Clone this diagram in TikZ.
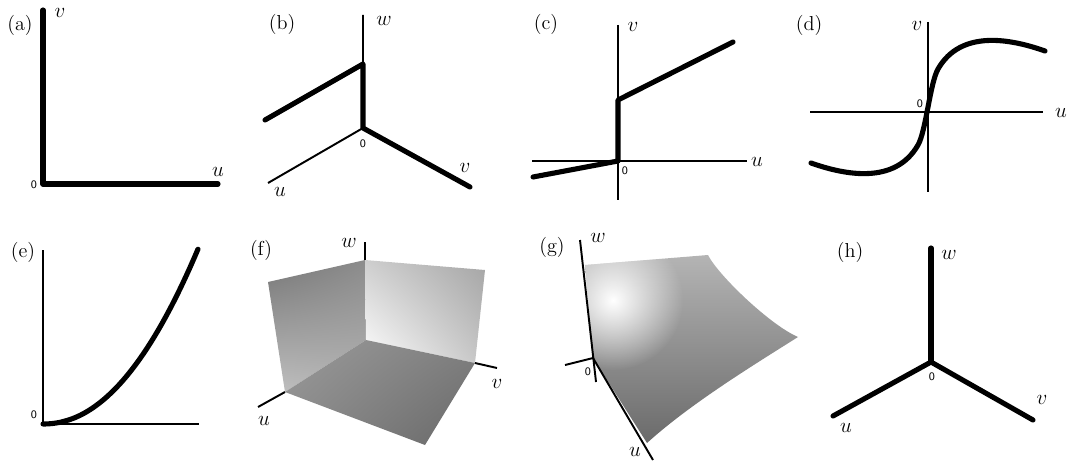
\documentclass[tikz,border=0pt]{standalone}
\usepackage{tikz}
\usepackage{amsmath}
\usepackage{xcolor}
\usetikzlibrary{positioning, calc, fadings, shadings}

\tikzfading[name=glowfade, inner color=transparent!0, outer color=transparent!100]

\begin{document}
\begin{tikzpicture}[
  x=0.02cm, y=-0.02cm,
  font=\fontsize{12.5}{15}\selectfont,
  axisline/.style={black, line width=1.1pt},
  boldline/.style={black, line width=2.9pt, line cap=round, line join=round},
  panel/.style={inner sep=0pt, font=\fontsize{11.5}{14}\selectfont},
  lbl/.style={inner sep=0pt},
  zerolbl/.style={inner sep=0pt, font=\sffamily\fontsize{6.5}{7}\selectfont},
]
% ---------------- page bbox (pixel units, y down) ----------------
\useasboundingbox (0,0) rectangle (1070,466);

% =====================================================================
% (a) two half axes
% =====================================================================
\coordinate (a0) at (43,184);
\coordinate (au) at (218,184);
\coordinate (av) at (43,10);
\draw[boldline] (av) -- (a0) -- (au);
\node[panel] (alab) at (20,25) {(a)};
\node[lbl] (avl) at (60,13) {$v$};
\node[lbl] (aul) at (218,172) {$u$};
\node[zerolbl] (azero) at (34,185) {0};

% =====================================================================
% (b) bent line in 3d
% =====================================================================
\coordinate (b0) at (363,128);
\coordinate (bw) at (363,15);
\coordinate (bk) at (363,64);
\coordinate (bl) at (265,120);
\coordinate (bu) at (268,183);
\coordinate (bv) at (470,187);
\draw[axisline] (bw) -- (b0) -- (bu);
\draw[boldline] (bl) -- (bk) -- (b0) -- (bv);
\node[panel] (blab) at (282,24) {(b)};
\node[lbl] (bwl) at (384,21) {$w$};
\node[lbl] (bul) at (280,192) {$u$};
\node[lbl] (bvl) at (465,168) {$v$};
\node[zerolbl] (bzero) at (363,144) {0};

% =====================================================================
% (c) jump at the origin
% =====================================================================
\coordinate (c0) at (618,161);
\coordinate (cvt) at (618,25);
\coordinate (cvb) at (618,200);
\coordinate (cul) at (532,161);
\coordinate (cur) at (747,161);
\coordinate (cneg) at (533,177);
\coordinate (cjump) at (618,100);
\coordinate (cend) at (733,42);
\draw[axisline] (cvt) -- (cvb);
\draw[axisline] (cul) -- (cur);
\draw[boldline] (cneg) -- (c0) -- (cjump) -- (cend);
\node[panel] (clab) at (546,24) {(c)};
\node[lbl] (cvl) at (633,27) {$v$};
\node[lbl] (cul) at (757,162) {$u$};
\node[zerolbl] (czero) at (625,171) {0};

% =====================================================================
% (d) s-shaped curve
% =====================================================================
\coordinate (dvt) at (928,22);
\coordinate (dvb) at (928,192);
\coordinate (dul) at (810,112);
\coordinate (dur) at (1043,112);
\draw[axisline] (dvt) -- (dvb);
\draw[axisline] (dul) -- (dur);
\draw[boldline] (811,163) .. controls (845,175) and (895,185) .. (918,145)
                          .. controls (926,131) and (930,83) .. (938,69)
                          .. controls (961,29) and (1011,39) .. (1045,51);
\node[panel] (dlab) at (809,25) {(d)};
\node[lbl] (dvl) at (917,26) {$v$};
\node[lbl] (dul) at (1061,113) {$u$};
\node[zerolbl] (dzero) at (920,104) {0};

% =====================================================================
% (e) power curve
% =====================================================================
\coordinate (e0) at (43,424);
\coordinate (evt) at (43,250);
\coordinate (eur) at (199,424);
\draw[axisline] (evt) -- (e0) -- (eur);
\draw[boldline] (e0) -- plot[domain=0.01:1, samples=40]
  ({43+155*\x}, {424-175*pow(\x,2.1)});
\node[panel] (elab) at (23,252) {(e)};
\node[zerolbl] (ezero) at (34,415) {0};

% =====================================================================
% (f) three shaded coordinate walls
% =====================================================================
\coordinate (f0) at (366,340);
\coordinate (fw) at (365,260);
\coordinate (fu) at (285,392);
\coordinate (fv) at (475,363);
\coordinate (fa) at (268,282);
\coordinate (fb) at (485,270);
\coordinate (fc) at (425,445);
\shade[upper left={rgb,255:red,118;green,118;blue,118},
       upper right={rgb,255:red,140;green,140;blue,140},
       lower left={rgb,255:red,192;green,192;blue,192},
       lower right={rgb,255:red,180;green,180;blue,180}]
  (fa) -- (fw) -- (f0) -- (fu) -- cycle;
\shade[upper left={rgb,255:red,206;green,206;blue,206},
       upper right={rgb,255:red,165;green,165;blue,165},
       lower left={rgb,255:red,255;green,255;blue,255},
       lower right={rgb,255:red,196;green,196;blue,196}]
  (fw) -- (fb) -- (fv) -- (f0) -- cycle;
\shade[upper left={rgb,255:red,154;green,154;blue,154},
       upper right={rgb,255:red,128;green,128;blue,128},
       lower left={rgb,255:red,138;green,138;blue,138},
       lower right={rgb,255:red,104;green,104;blue,104}]
  (fu) -- (f0) -- (fv) -- (fc) -- cycle;
\draw[axisline] (fw) -- (365,242);
\draw[axisline] (fu) -- (258,407);
\draw[axisline] (fv) -- (497,368);
\node[panel] (flab) at (261,250) {(f)};
\node[lbl] (fwl) at (349,243) {$w$};
\node[lbl] (fvl) at (497,384) {$v$};
\node[lbl] (ful) at (264,421) {$u$};

% =====================================================================
% (g) curved shaded patch
% =====================================================================
\coordinate (g0) at (593,358);
\coordinate (gwt) at (580,240);
\coordinate (gwb) at (596,382);
\coordinate (gue) at (653,460);
\coordinate (gvs) at (565,365);
\begin{scope}
  \clip (585,265) -- (708,255) .. controls (718,275) and (770,325) .. (798,337)
        .. controls (752,366) and (690,404) .. (647,443) -- (g0) -- cycle;
  \shade[top color={rgb,255:red,182;green,182;blue,182},
         bottom color={rgb,255:red,104;green,104;blue,104}]
    (570,250) rectangle (810,450);
  \fill[white, path fading=glowfade] (613,300) circle (70);
\end{scope}
\draw[axisline] (gwt) -- (gwb);
\draw[axisline] (g0) -- (gue);
\draw[axisline] (g0) -- (gvs);
\node[panel] (glab) at (552,247) {(g)};
\node[lbl] (gwl) at (598,238) {$w$};
\node[lbl] (gul) at (635,452) {$u$};
\node[zerolbl] (gzero) at (588,372) {0};

% =====================================================================
% (h) three half axes
% =====================================================================
\coordinate (h0) at (931,362);
\coordinate (hw) at (931,248);
\coordinate (hu) at (833,416);
\coordinate (hv) at (1033,420);
\foreach \p in {hw,hu,hv} {
  \draw[boldline] (h0) -- (\p);
}
\node[panel] (hlab) at (850,252) {(h)};
\node[lbl] (hwl) at (949,255) {$w$};
\node[lbl] (hul) at (846,428) {$u$};
\node[lbl] (hvl) at (1042,400) {$v$};
\node[zerolbl] (hzero) at (932,377) {0};

\end{tikzpicture}
\end{document}
